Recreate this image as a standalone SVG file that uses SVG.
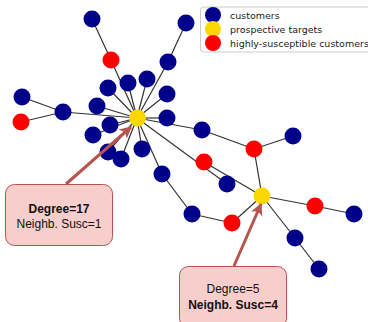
<svg xmlns="http://www.w3.org/2000/svg" width="368" height="322" viewBox="0 0 368 322">
<style>
.e{stroke:#333;stroke-width:1.2;fill:none}
.c{fill:#00008b}
.t{fill:#ffd700}
.s{fill:#ff0000}
.lg{font-family:"DejaVu Sans",sans-serif;font-size:9.5px;fill:#222}
.box{fill:#f8cecc;stroke:#b85450;stroke-width:1}
.bt{font-family:"Liberation Sans",Arial,sans-serif;font-size:12px;fill:#111;text-anchor:middle}
.b{font-weight:bold}
.ar{stroke:#b85450;stroke-width:3;fill:none}
</style>
<defs>
<marker id="ah" viewBox="0 0 10 10" refX="9" refY="5" markerWidth="4" markerHeight="4" orient="auto" markerUnits="strokeWidth">
<path d="M0,0 L10,5 L0,10 L2.5,5 Z" fill="#b85450"/>
</marker>
</defs>
<rect width="368" height="322" fill="#fff"/>
<g id="connectors">
<line class="e" x1="137" y1="118" x2="111" y2="60"/>
<line class="e" x1="111" y1="60" x2="92" y2="19"/>
<line class="e" x1="137" y1="118" x2="168" y2="62"/>
<line class="e" x1="168" y1="62" x2="186" y2="23"/>
<line class="e" x1="137" y1="118" x2="128" y2="83"/>
<line class="e" x1="137" y1="118" x2="147" y2="79"/>
<line class="e" x1="137" y1="118" x2="108" y2="88"/>
<line class="e" x1="137" y1="118" x2="167" y2="94"/>
<line class="e" x1="137" y1="118" x2="97" y2="106"/>
<line class="e" x1="137" y1="118" x2="63" y2="112"/>
<line class="e" x1="63" y1="112" x2="22" y2="97"/>
<line class="e" x1="63" y1="112" x2="21" y2="122"/>
<line class="e" x1="137" y1="118" x2="167" y2="118"/>
<line class="e" x1="137" y1="118" x2="202" y2="130"/>
<line class="e" x1="137" y1="118" x2="110" y2="125"/>
<line class="e" x1="137" y1="118" x2="93" y2="135"/>
<line class="e" x1="137" y1="118" x2="142" y2="149"/>
<line class="e" x1="137" y1="118" x2="108" y2="152"/>
<line class="e" x1="137" y1="118" x2="121" y2="159"/>
<line class="e" x1="137" y1="118" x2="162" y2="174"/>
<line class="e" x1="137" y1="118" x2="227" y2="184"/>
<line class="e" x1="162" y1="174" x2="192" y2="214"/>
<line class="e" x1="192" y1="214" x2="232" y2="223"/>
<line class="e" x1="232" y1="223" x2="262" y2="196"/>
<line class="e" x1="202" y1="130" x2="254" y2="149"/>
<line class="e" x1="254" y1="149" x2="293" y2="136"/>
<line class="e" x1="254" y1="149" x2="262" y2="196"/>
<line class="e" x1="204" y1="162" x2="262" y2="196"/>
<line class="e" x1="262" y1="196" x2="315" y2="206"/>
<line class="e" x1="315" y1="206" x2="354" y2="214"/>
<line class="e" x1="262" y1="196" x2="295" y2="238"/>
<line class="e" x1="295" y1="238" x2="319" y2="269"/>
</g>
<g id="nodes">
<g id="n1"><circle class="c" cx="92" cy="19" r="8.5"/></g>
<g id="n2"><circle class="s" cx="111" cy="60" r="8.5"/></g>
<g id="n3"><circle class="c" cx="186" cy="23" r="8.5"/></g>
<g id="n4"><circle class="c" cx="168" cy="62" r="8.5"/></g>
<g id="n5"><circle class="c" cx="128" cy="83" r="8.5"/></g>
<g id="n6"><circle class="c" cx="147" cy="79" r="8.5"/></g>
<g id="n7"><circle class="c" cx="108" cy="88" r="8.5"/></g>
<g id="n8"><circle class="c" cx="167" cy="94" r="8.5"/></g>
<g id="n9"><circle class="c" cx="22" cy="97" r="8.5"/></g>
<g id="n10"><circle class="c" cx="63" cy="112" r="8.5"/></g>
<g id="n11"><circle class="s" cx="21" cy="122" r="8.5"/></g>
<g id="n12"><circle class="c" cx="97" cy="106" r="8.5"/></g>
<g id="n13"><circle class="c" cx="167" cy="118" r="8.5"/></g>
<g id="n14"><circle class="c" cx="93" cy="135" r="8.5"/></g>
<g id="n15"><circle class="c" cx="110" cy="125" r="8.5"/></g>
<g id="n16"><circle class="c" cx="142" cy="149" r="8.5"/></g>
<g id="n17"><circle class="c" cx="108" cy="152" r="8.5"/></g>
<g id="n18"><circle class="c" cx="121" cy="159" r="8.5"/></g>
<g id="n19"><circle class="c" cx="162" cy="174" r="8.5"/></g>
<g id="n20"><circle class="c" cx="202" cy="130" r="8.5"/></g>
<g id="n21"><circle class="s" cx="254" cy="149" r="8.5"/></g>
<g id="n22"><circle class="c" cx="293" cy="136" r="8.5"/></g>
<g id="n23"><circle class="s" cx="204" cy="162" r="8.5"/></g>
<g id="n24"><circle class="c" cx="227" cy="184" r="8.5"/></g>
<g id="n25"><circle class="c" cx="192" cy="214" r="8.5"/></g>
<g id="n26"><circle class="s" cx="232" cy="223" r="8.5"/></g>
<g id="n27"><circle class="s" cx="315" cy="206" r="8.5"/></g>
<g id="n28"><circle class="c" cx="354" cy="214" r="8.5"/></g>
<g id="n29"><circle class="c" cx="295" cy="238" r="8.5"/></g>
<g id="n30"><circle class="c" cx="319" cy="269" r="8.5"/></g>
<g id="hub"><circle class="t" cx="137.5" cy="118" r="8.5"/></g>
<g id="target2"><circle class="t" cx="262" cy="196" r="8.5"/></g>
</g>
<g id="legend">
<rect x="200.5" y="7" width="172" height="45" rx="3" fill="#fff" fill-opacity="0.85" stroke="#ccc" stroke-width="1"/>
<circle class="c" cx="213" cy="15" r="8"/>
<circle class="t" cx="213" cy="29" r="8"/>
<circle class="s" cx="213" cy="43" r="8"/>
<text class="lg" x="230" y="18.5">customers</text>
<text class="lg" x="230" y="32.5">prospective targets</text>
<text class="lg" x="230" y="46.5">highly-susceptible customers</text>
</g>
<g id="callout1">
<line class="ar" x1="66" y1="184" x2="131" y2="127" marker-end="url(#ah)"/>
<rect class="box" x="5.5" y="184.5" width="107" height="61" rx="9"/>
<text class="bt b" x="59" y="212.5">Degree=17</text>
<text class="bt" x="59" y="227.5">Neighb. Susc=1</text>
</g>
<g id="callout2">
<line class="ar" x1="234" y1="266" x2="261" y2="204" marker-end="url(#ah)"/>
<rect class="box" x="179.5" y="266.5" width="107" height="61" rx="9"/>
<text class="bt" x="233" y="292.5">Degree=5</text>
<text class="bt b" x="233" y="308.5">Neighb. Susc=4</text>
</g>
</svg>
